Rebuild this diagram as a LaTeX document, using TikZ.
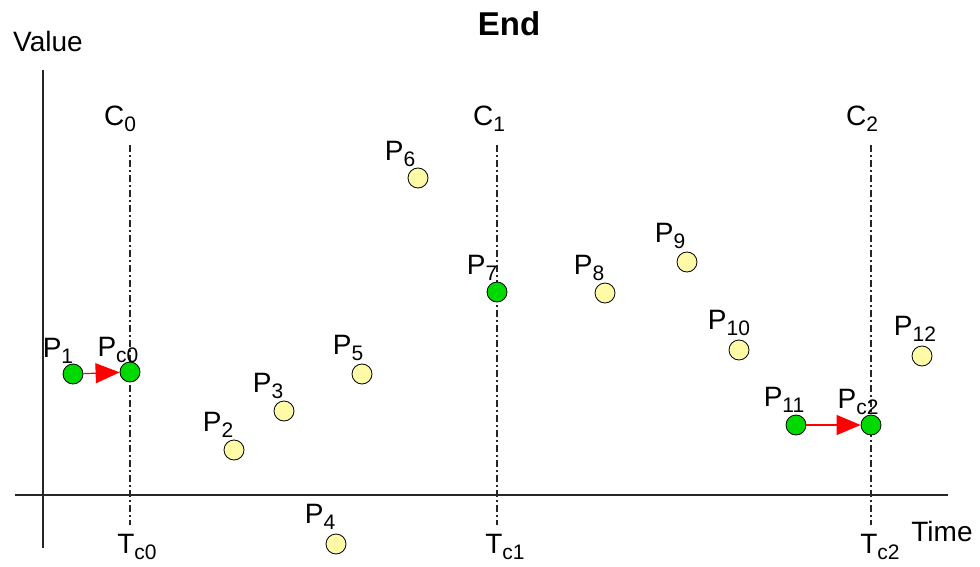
\documentclass[tikz,border=0pt]{standalone}
\usepackage{fontspec}
\setmainfont{Liberation Sans}
\usetikzlibrary{arrows.meta}
\newcommand\lbl[2]{#1{\fontsize{21}{24}\selectfont\raisebox{-0.55ex}{#2}}}
\begin{document}
\begin{tikzpicture}[x=1pt,y=-1pt,
  every node/.style={font=\fontsize{28}{32}\selectfont, inner sep=0pt},
  ptY/.style={circle, draw=black, line width=0.8pt, fill=yellow!35, minimum size=20pt},
  ptG/.style={circle, draw=black, line width=0.8pt, fill=green!85!black, minimum size=20pt},
  axis/.style={line width=1.8pt, draw=black!85},
  cline/.style={line width=1.4pt, draw=black!85, dash pattern=on 7pt off 3pt on 2pt off 3pt},
  mv/.style={red, line width=1.2pt, -{Triangle[length=24pt,width=20pt]}}]
\useasboundingbox (0,0) rectangle (980,567);
% axes
\coordinate (yT) at (43,70); \coordinate (yB) at (43,548);
\coordinate (xL) at (15,495); \coordinate (xR) at (948,495);
\draw[axis] (yT) -- (yB);
\draw[axis] (xL) -- (xR);
% title and axis labels
\node[font=\fontsize{33}{36}\selectfont\bfseries] (title) at (509,24) {End};
\node (value) at (48,41) {Value};
\node (time) at (942,531) {Time};
% cycle lines
\coordinate (c0t) at (130,145); \coordinate (c0b) at (130,525);
\coordinate (c1t) at (497,145); \coordinate (c1b) at (497,525);
\coordinate (c2t) at (871,145); \coordinate (c2b) at (871,525);
\draw[cline] (c0t) -- (c0b);
\draw[cline] (c1t) -- (c1b);
\draw[cline] (c2t) -- (c2b);
\node (C0) at (120,119) {\lbl{C}{0}};
\node (C1) at (489,119) {\lbl{C}{1}};
\node (C2) at (862,119) {\lbl{C}{2}};
\node (T0) at (137,547) {\lbl{T}{c0}};
\node (T1) at (505,547) {\lbl{T}{c1}};
\node (T2) at (880,547) {\lbl{T}{c2}};
% points
\node[ptG] (p1) at (73,374) {};
\node[ptG] (pc0) at (130,372) {};
\node[ptY] (p2) at (234,450) {};
\node[ptY] (p3) at (284,411) {};
\node[ptY] (p4) at (336,544) {};
\node[ptY] (p5) at (362,374) {};
\node[ptY] (p6) at (418,178) {};
\node[ptG] (p7) at (497,292) {};
\node[ptY] (p8) at (605,293) {};
\node[ptY] (p9) at (687,262) {};
\node[ptY] (p10) at (739,350) {};
\node[ptG] (p11) at (796,425) {};
\node[ptG] (pc2) at (871,425) {};
\node[ptY] (p12) at (922,356) {};
% arrows
\draw[mv] (p1) -- (pc0);
\draw[mv] (p11) -- (pc2);
% labels
\node (l1) at (58,351) {\lbl{P}{1}};
\node (lc0) at (118,350) {\lbl{P}{c0}};
\node (l2) at (218,425) {\lbl{P}{2}};
\node (l3) at (268,386) {\lbl{P}{3}};
\node (l4) at (320,517) {\lbl{P}{4}};
\node (l5) at (348,348) {\lbl{P}{5}};
\node (l6) at (400,154) {\lbl{P}{6}};
\node (l7) at (482,268) {\lbl{P}{7}};
\node (l8) at (589,268) {\lbl{P}{8}};
\node (l9) at (670,236) {\lbl{P}{9}};
\node (l10) at (729,323) {\lbl{P}{10}};
\node (l11) at (784,400) {\lbl{P}{11}};
\node (lc2) at (858,402) {\lbl{P}{c2}};
\node (l12) at (915,329) {\lbl{P}{12}};
\end{tikzpicture}
\end{document}
